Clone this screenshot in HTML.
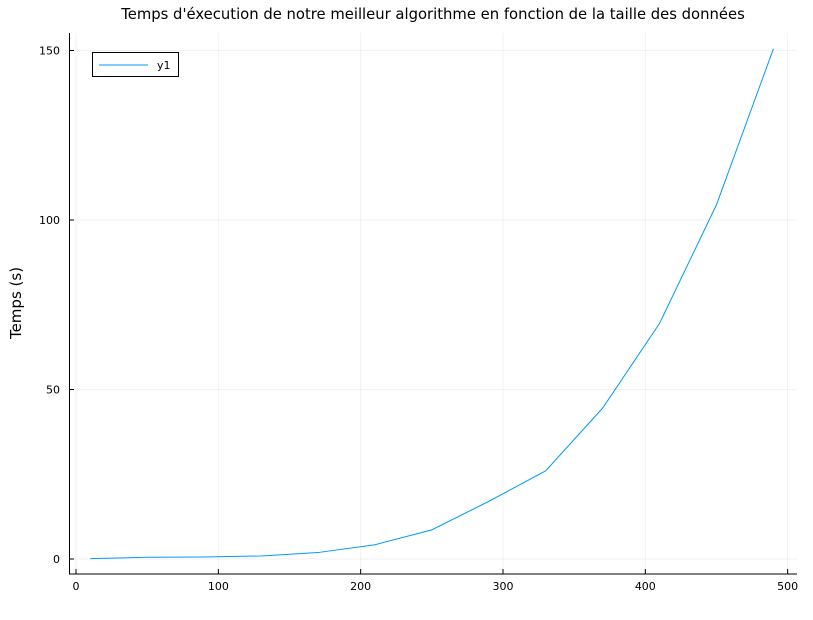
<!DOCTYPE html>
<html><head><meta charset="utf-8"><style>body{margin:0;background:#fff}svg{font-family:"DejaVu Sans","Liberation Sans",sans-serif}</style></head>
<body>
<svg id="chart" width="813" height="615">
<rect width="813" height="615" fill="#fff"/>
<text x="433" y="19" font-size="14.8" text-anchor="middle">Temps d'éxecution de notre meilleur algorithme en fonction de la taille des données</text>
<text transform="translate(21,303) rotate(-90)" font-size="15" text-anchor="middle">Temps (s)</text>
<g id="grid"></g>
<line x1="69.5" y1="33" x2="69.5" y2="574" stroke="#000"/>
<line x1="69" y1="574" x2="797" y2="574" stroke="#000"/>
<g id="ticks"></g>
<g id="series"></g>
<g>
<rect x="92.5" y="52.5" width="86" height="24" fill="#fff" stroke="#000"/>
<line x1="99" y1="65" x2="148" y2="65" stroke="#009af9"/>
<text x="157" y="69" font-size="11">y1</text>
</g>
</svg>
<script>
const xs=[10,50,90,130,170,210,250,290,330,370,410,450,490];
const ys=[0.1,0.5,0.6,0.9,1.9,4.2,8.6,17,26,44.5,69.5,104.5,150.5];
const xTicks=[0,100,200,300,400,500];
const yTicks=[0,50,100,150];
const sx=v=>76+v*1.4233, sy=v=>559-v*3.39;
const NS='http://www.w3.org/2000/svg';
const mk=(p,t,a)=>{const e=document.createElementNS(NS,t);for(const k in a)e.setAttribute(k,a[k]);document.getElementById(p).appendChild(e);return e;};
xTicks.forEach(t=>{
 const g=mk('grid','line',{x1:sx(t),x2:sx(t),y1:33,y2:574,stroke:'#000','stroke-opacity':0.05});
 
 
 const k=mk('ticks','line',{x1:sx(t),x2:sx(t),y1:574,y2:569,stroke:'#000'});
 
 
 const l=mk('ticks','text',{x:sx(t),y:590,'font-size':11,'text-anchor':'middle'});l.textContent=t;
 
 
});
yTicks.forEach(t=>{
 const g=mk('grid','line',{x1:69,x2:797,y1:sy(t),y2:sy(t),stroke:'#000','stroke-opacity':0.05});
 
 
 const k=mk('ticks','line',{x1:69,x2:74,y1:sy(t),y2:sy(t),stroke:'#000'});
 
 
 const l=mk('ticks','text',{x:60,y:sy(t)+4,'font-size':11,'text-anchor':'end'});l.textContent=t;
 
 
});
const p=mk('series','polyline',{points:xs.map((x,i)=>sx(x)+','+sy(ys[i])).join(' '),fill:'none',stroke:'#009af9','stroke-width':1});


</script>
</body></html>
